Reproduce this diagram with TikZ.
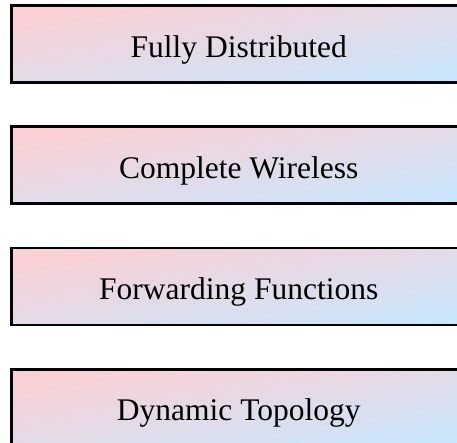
\documentclass[tikz,border=0pt]{standalone}
\usepackage{fontspec}
\setmainfont{Liberation Serif}
\usetikzlibrary{shadings}
\definecolor{cpink}{RGB}{255,206,208}
\definecolor{cblue}{RGB}{198,232,255}
\definecolor{cmid}{RGB}{227,219,232}
\tikzset{
  stepbox/.style={rectangle, draw=black, line width=2.8pt,
    minimum width=454.5pt, minimum height=77pt, inner sep=0pt,
    text height=28pt, text depth=2pt,
    upper left=cpink, lower right=cblue, upper right=cmid, lower left=cmid,
    font=\fontsize{31.5}{36}\selectfont, text=black}
}
\begin{document}
\begin{tikzpicture}[x=1pt,y=1pt]
\useasboundingbox (0,0) rectangle (457,-442);
\clip (0,0) rectangle (457,-442);
\node[stepbox] (b1) at (238.75,-44) {Fully Distributed};
\node[stepbox] (b2) at (238.75,-165.2) {Complete Wireless};
\node[stepbox] (b3) at (238.75,-286.4) {Forwarding Functions};
\node[stepbox] (b4) at (238.75,-407.8) {Dynamic Topology};
\end{tikzpicture}
\end{document}
